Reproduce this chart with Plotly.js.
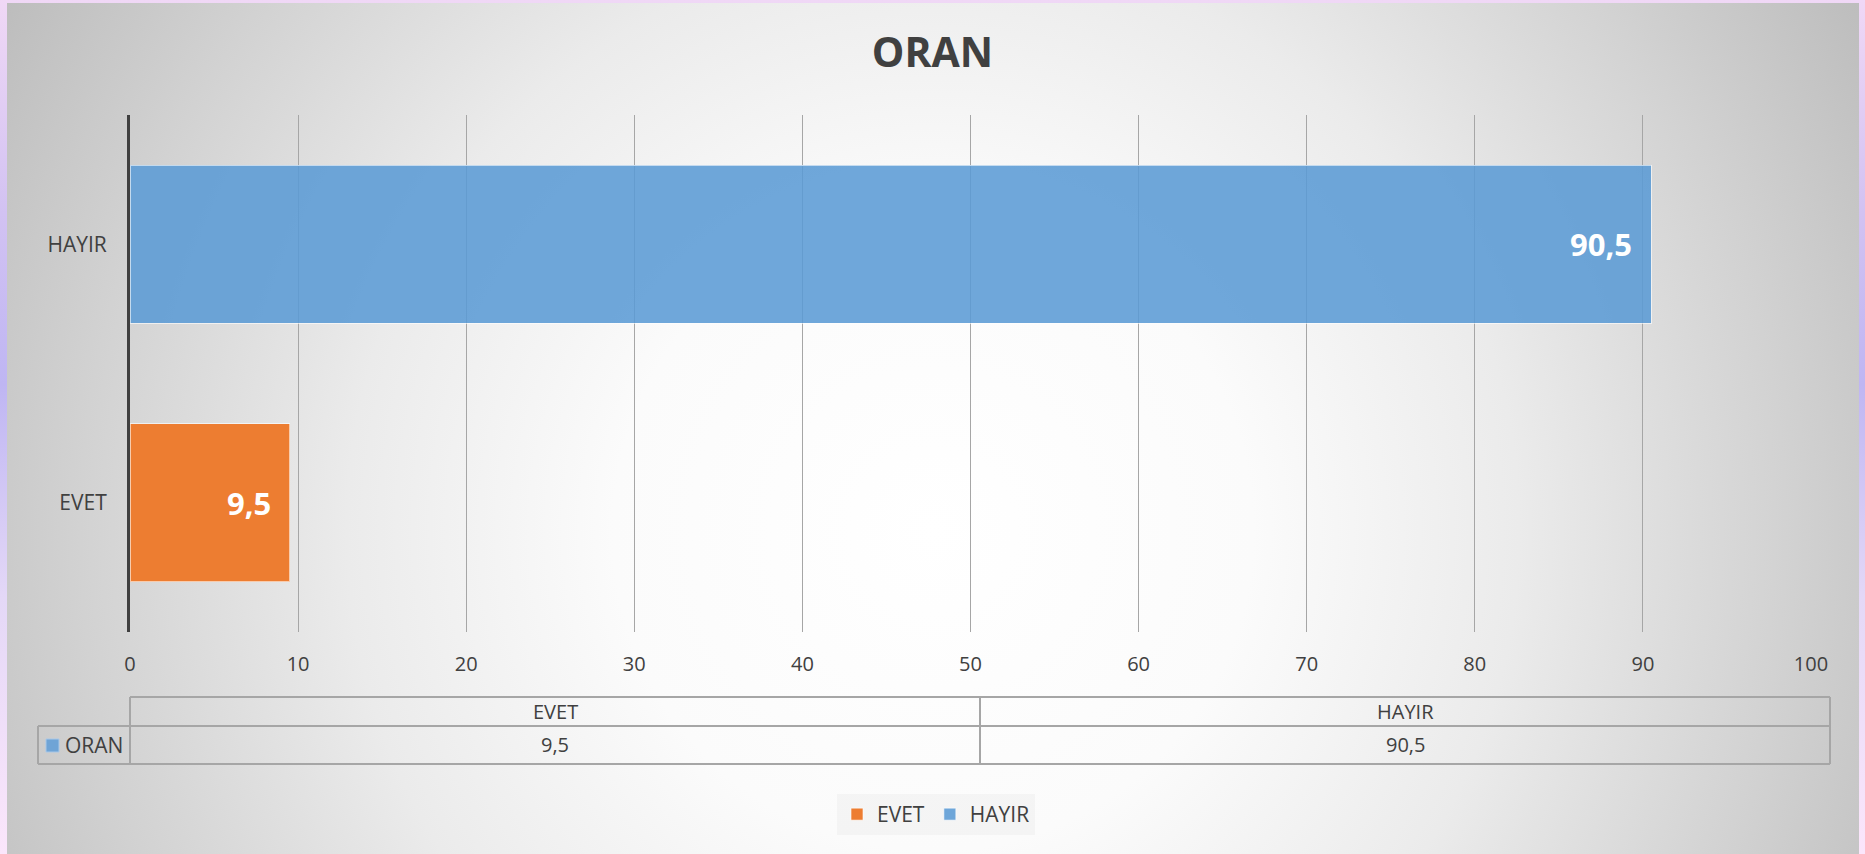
<!DOCTYPE html>
<html>
<head>
<meta charset="utf-8">
<script src="https://cdn.plot.ly/plotly-3.0.1.min.js"></script>
<style>
  html, body { margin: 0; padding: 0; width: 1865px; height: 854px; overflow: hidden; }
  body { background: linear-gradient(to bottom, #f0d8f6 0%, #d2c2f2 25%, #bfb6f3 45%, #e4d8f7 70%, #fbe6fb 100%); position: relative; }
  #panel { position: absolute; left: 7px; top: 3px; width: 1852px; height: 851px;
    background: radial-gradient(circle farthest-corner at 50% 62%, #ffffff 0%, #fbfbfb 30%, #ebebeb 55%, #d2d2d2 80%, #bdbdbd 100%); }
  #chart { position: absolute; left: 0; top: 0; width: 1865px; height: 854px; }
</style>
</head>
<body>
<div id="panel"></div>
<div id="chart"></div>
<script>
// ---- data ----
const chartTitle = 'ORAN';
const seriesName = 'ORAN';
const categories = ['EVET', 'HAYIR'];
const values = [9.5, 90.5];
const barColors = ['#ED7D31', 'rgba(91,155,213,0.88)'];
const xTicks = [0, 10, 20, 30, 40, 50, 60, 70, 80, 90, 100];

// ---- helpers ----
const W = 1865, H = 854;
const M = { l: 130, r: 54, t: 115, b: 222 };
const pw = W - M.l - M.r, ph = H - M.t - M.b;
const px = x => (x - M.l) / pw;          // pixel x -> paper x
const py = y => (H - M.b - y) / ph;      // pixel y -> paper y
const fmt = v => String(v).replace('.', ',');
const FONT = 'Open Sans, sans-serif';
const TXT = '#404040';

// ---- traces ----
const traces = categories.map((c, i) => ({
  type: 'bar',
  orientation: 'h',
  name: c,
  y: [c],
  x: [values[i]],
  marker: { color: barColors[i], line: { color: 'rgba(255,255,255,0.6)', width: 1 } },
  hoverinfo: 'x+y'
}));

// ---- data labels ----
const annotations = categories.map((c, i) => ({
  x: values[i], y: c, xref: 'x', yref: 'y',
  text: fmt(values[i]), showarrow: false,
  xanchor: 'right', yanchor: 'middle', xshift: -17,
  font: { family: FONT, size: 31, color: '#ffffff', weight: 'bold' }
}));

// ---- data table ----
const tL = 130, tR = 1830, tKey = 38;
const yTop = 697, yMid = 726, yBot = 764;
const lineStyle = { color: '#a6a6a6', width: 2 };
const shapes = [];
const hline = (x0, x1, y) => shapes.push({ type: 'line', xref: 'paper', yref: 'paper', x0: px(x0), x1: px(x1), y0: py(y), y1: py(y), line: lineStyle });
const vline = (x, y0, y1) => shapes.push({ type: 'line', xref: 'paper', yref: 'paper', x0: px(x), x1: px(x), y0: py(y0), y1: py(y1), line: lineStyle });
hline(tL, tR, yTop);
hline(tKey, tR, yMid);
hline(tKey, tR, yBot);
vline(tKey, yMid, yBot);
const colW = (tR - tL) / categories.length;
for (let i = 0; i <= categories.length; i++) vline(tL + i * colW, yTop, yBot);
categories.forEach((c, i) => {
  const cx = tL + (i + 0.5) * colW;
  annotations.push({ xref: 'paper', yref: 'paper', x: px(cx), y: py((yTop + yMid) / 2), text: c, showarrow: false,
    xanchor: 'center', yanchor: 'middle', font: { family: FONT, size: 20, color: TXT } });
  annotations.push({ xref: 'paper', yref: 'paper', x: px(cx), y: py((yMid + yBot) / 2), text: fmt(values[i]), showarrow: false,
    xanchor: 'center', yanchor: 'middle', font: { family: FONT, size: 20, color: TXT } });
});
// key square + series name
shapes.push({ type: 'rect', xref: 'paper', yref: 'paper', x0: px(46), x1: px(59), y0: py(739), y1: py(752),
  fillcolor: '#6FA4D6', line: { color: '#a9c8e8', width: 1 } });
annotations.push({ xref: 'paper', yref: 'paper', x: px(63), y: py(745), text: seriesName, showarrow: false,
  xanchor: 'left', yanchor: 'middle', font: { family: FONT, size: 21, color: TXT } });

const layout = {
  width: W, height: H,
  margin: M,
  paper_bgcolor: 'rgba(0,0,0,0)',
  plot_bgcolor: 'rgba(0,0,0,0)',
  separators: ',.',
  title: { text: chartTitle, x: 0.5, xref: 'container', xanchor: 'center', y: 1 - 53 / H, yanchor: 'middle',
    font: { family: FONT, size: 41, color: TXT, weight: 'bold' } },
  barmode: 'stack',
  bargap: 0.39,
  xaxis: {
    range: [0, 100], tickvals: xTicks, ticktext: xTicks.map(String),
    showgrid: true, gridcolor: '#a6a6a6', gridwidth: 1,
    zeroline: false, showline: false, ticks: '',
    ticklabelstandoff: 18,
    tickfont: { family: FONT, size: 20, color: TXT },
    fixedrange: true
  },
  yaxis: {
    categoryorder: 'array', categoryarray: categories,
    showline: true, linecolor: '#404040', linewidth: 3,
    showgrid: false, zeroline: false, ticks: '',
    ticklabelstandoff: 16,
    tickfont: { family: FONT, size: 21, color: TXT },
    fixedrange: true
  },
  showlegend: true,
  legend: {
    orientation: 'h', traceorder: 'normal',
    x: px(837), xanchor: 'left', y: py(794), yanchor: 'top',
    bgcolor: 'rgba(240,240,240,0.6)',
    font: { family: FONT, size: 21, color: TXT },
    itemwidth: 30
  },
  annotations: annotations,
  shapes: shapes
};

Plotly.newPlot('chart', traces, layout, { displayModeBar: false, staticPlot: false });
</script>
</body>
</html>
